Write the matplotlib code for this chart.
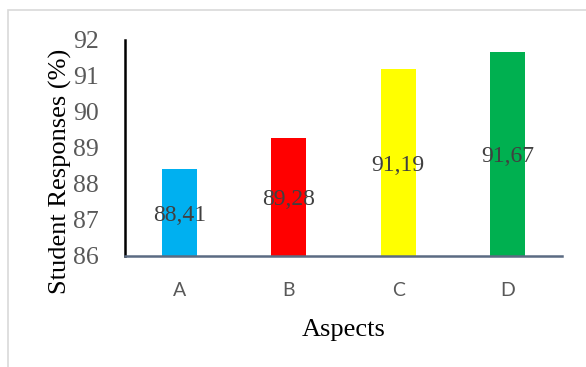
import matplotlib
matplotlib.use("Agg")
import matplotlib.pyplot as plt
from matplotlib.patches import Rectangle
from matplotlib.transforms import offset_copy

categories = ["A", "B", "C", "D"]
values = [88.41, 89.28, 91.19, 91.67]
value_labels = ["88,41", "89,28", "91,19", "91,67"]
colors = ["#00B0F0", "#FF0000", "#FFFF00", "#00B050"]
y_ticks = [86, 87, 88, 89, 90, 91, 92]

serif = ["Liberation Serif", "DejaVu Serif"]
sans = ["Lato", "Liberation Sans", "DejaVu Sans"]

fig = plt.figure(figsize=(5.86, 3.67), dpi=100)
fig.patches.append(Rectangle((8 / 586, -0.1), 1.2, 1 - 10 / 367 + 0.1,
                             transform=fig.transFigure, fill=False,
                             edgecolor="#d9d9d9", linewidth=1.2))

ax = fig.add_axes([125 / 586, 1 - 256 / 367, 437 / 586, 216 / 367])
base = y_ticks[0]
x = range(len(categories))
ax.bar(x, [v - base for v in values], bottom=base, width=0.32, color=colors)

# value labels sit at the middle of the visible part of each bar
label_tr = offset_copy(ax.transData, fig=fig, x=0, y=-3, units="dots")
for xi, v, lab in zip(x, values, value_labels):
    ax.text(xi, (base + v) / 2, lab, ha="center", va="center",
            family=serif, fontsize=17, color="#404040", transform=label_tr)

ax.set_xlim(-0.5, len(categories) - 0.5)
ax.set_ylim(base, y_ticks[-1])
ax.set_yticks(y_ticks)
ax.set_yticklabels([str(t) for t in y_ticks], family=serif, fontsize=18.5,
                   color="#595959")
ax.set_xticks(list(x))
ax.set_xticklabels(categories, family=sans, fontsize=14, color="#595959")
ax.tick_params(axis="both", length=0)
ax.tick_params(axis="y", pad=19)
ax.tick_params(axis="x", pad=19)

for s in ("top", "right"):
    ax.spines[s].set_visible(False)
ax.spines["left"].set_color("#000000")
ax.spines["left"].set_linewidth(1.8)
ax.spines["bottom"].set_color("#5b6b82")
ax.spines["bottom"].set_linewidth(1.8)

ax.set_xlabel("Aspects", family=serif, fontsize=19, color="#000000", labelpad=14)
fig.text(60 / 586, 1 - 171 / 367, "Student Responses (%)", rotation=90,
         ha="center", va="center", family=serif, fontsize=19, color="#000000")

fig.savefig("out.png", dpi=100)
